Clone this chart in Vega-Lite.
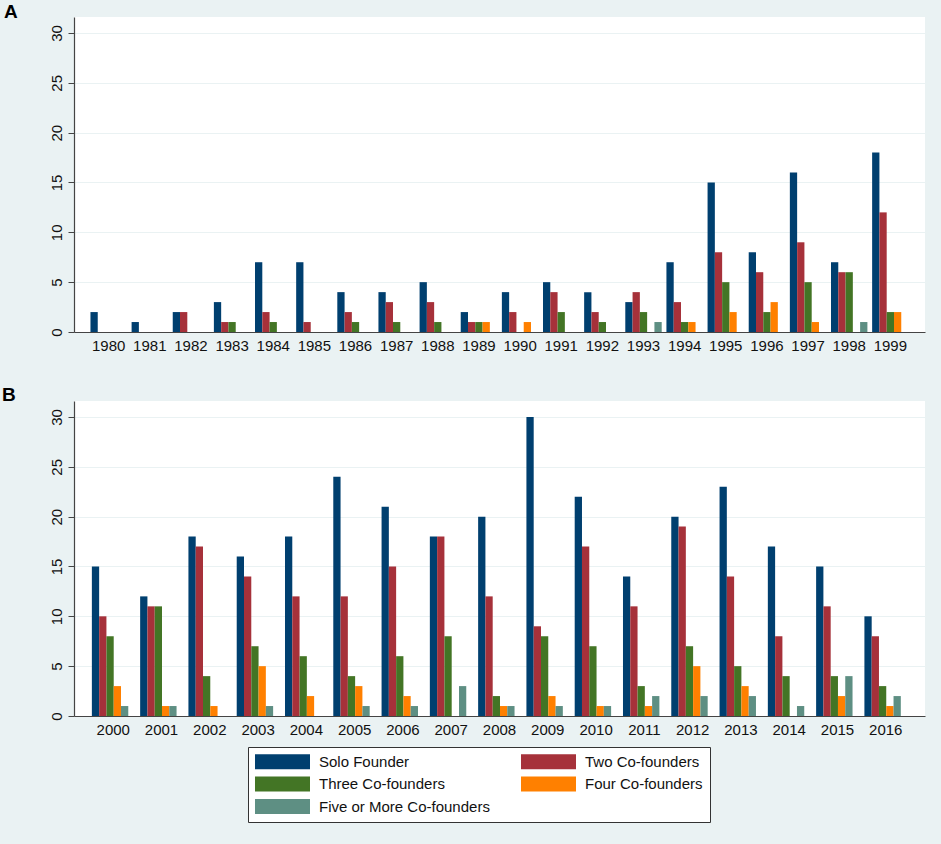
{
  "$schema": "https://vega.github.io/schema/vega-lite/v6.json",
  "autosize": {"type": "pad"},
  "padding": {"left": 2, "top": 3, "right": 18, "bottom": 24},
  "background": "#eaf2f3",
  "datasets": {
    "counts": [
      {"panel": "A", "year": "1980", "founders": "Solo Founder", "count": 2},
      {"panel": "A", "year": "1981", "founders": "Solo Founder", "count": 1},
      {"panel": "A", "year": "1982", "founders": "Solo Founder", "count": 2},
      {"panel": "A", "year": "1982", "founders": "Two Co-founders", "count": 2},
      {"panel": "A", "year": "1983", "founders": "Solo Founder", "count": 3},
      {"panel": "A", "year": "1983", "founders": "Two Co-founders", "count": 1},
      {"panel": "A", "year": "1983", "founders": "Three Co-founders", "count": 1},
      {"panel": "A", "year": "1984", "founders": "Solo Founder", "count": 7},
      {"panel": "A", "year": "1984", "founders": "Two Co-founders", "count": 2},
      {"panel": "A", "year": "1984", "founders": "Three Co-founders", "count": 1},
      {"panel": "A", "year": "1985", "founders": "Solo Founder", "count": 7},
      {"panel": "A", "year": "1985", "founders": "Two Co-founders", "count": 1},
      {"panel": "A", "year": "1986", "founders": "Solo Founder", "count": 4},
      {"panel": "A", "year": "1986", "founders": "Two Co-founders", "count": 2},
      {"panel": "A", "year": "1986", "founders": "Three Co-founders", "count": 1},
      {"panel": "A", "year": "1987", "founders": "Solo Founder", "count": 4},
      {"panel": "A", "year": "1987", "founders": "Two Co-founders", "count": 3},
      {"panel": "A", "year": "1987", "founders": "Three Co-founders", "count": 1},
      {"panel": "A", "year": "1988", "founders": "Solo Founder", "count": 5},
      {"panel": "A", "year": "1988", "founders": "Two Co-founders", "count": 3},
      {"panel": "A", "year": "1988", "founders": "Three Co-founders", "count": 1},
      {"panel": "A", "year": "1989", "founders": "Solo Founder", "count": 2},
      {"panel": "A", "year": "1989", "founders": "Two Co-founders", "count": 1},
      {"panel": "A", "year": "1989", "founders": "Three Co-founders", "count": 1},
      {"panel": "A", "year": "1989", "founders": "Four Co-founders", "count": 1},
      {"panel": "A", "year": "1990", "founders": "Solo Founder", "count": 4},
      {"panel": "A", "year": "1990", "founders": "Two Co-founders", "count": 2},
      {"panel": "A", "year": "1990", "founders": "Four Co-founders", "count": 1},
      {"panel": "A", "year": "1991", "founders": "Solo Founder", "count": 5},
      {"panel": "A", "year": "1991", "founders": "Two Co-founders", "count": 4},
      {"panel": "A", "year": "1991", "founders": "Three Co-founders", "count": 2},
      {"panel": "A", "year": "1992", "founders": "Solo Founder", "count": 4},
      {"panel": "A", "year": "1992", "founders": "Two Co-founders", "count": 2},
      {"panel": "A", "year": "1992", "founders": "Three Co-founders", "count": 1},
      {"panel": "A", "year": "1993", "founders": "Solo Founder", "count": 3},
      {"panel": "A", "year": "1993", "founders": "Two Co-founders", "count": 4},
      {"panel": "A", "year": "1993", "founders": "Three Co-founders", "count": 2},
      {"panel": "A", "year": "1993", "founders": "Five or More Co-founders", "count": 1},
      {"panel": "A", "year": "1994", "founders": "Solo Founder", "count": 7},
      {"panel": "A", "year": "1994", "founders": "Two Co-founders", "count": 3},
      {"panel": "A", "year": "1994", "founders": "Three Co-founders", "count": 1},
      {"panel": "A", "year": "1994", "founders": "Four Co-founders", "count": 1},
      {"panel": "A", "year": "1995", "founders": "Solo Founder", "count": 15},
      {"panel": "A", "year": "1995", "founders": "Two Co-founders", "count": 8},
      {"panel": "A", "year": "1995", "founders": "Three Co-founders", "count": 5},
      {"panel": "A", "year": "1995", "founders": "Four Co-founders", "count": 2},
      {"panel": "A", "year": "1996", "founders": "Solo Founder", "count": 8},
      {"panel": "A", "year": "1996", "founders": "Two Co-founders", "count": 6},
      {"panel": "A", "year": "1996", "founders": "Three Co-founders", "count": 2},
      {"panel": "A", "year": "1996", "founders": "Four Co-founders", "count": 3},
      {"panel": "A", "year": "1997", "founders": "Solo Founder", "count": 16},
      {"panel": "A", "year": "1997", "founders": "Two Co-founders", "count": 9},
      {"panel": "A", "year": "1997", "founders": "Three Co-founders", "count": 5},
      {"panel": "A", "year": "1997", "founders": "Four Co-founders", "count": 1},
      {"panel": "A", "year": "1998", "founders": "Solo Founder", "count": 7},
      {"panel": "A", "year": "1998", "founders": "Two Co-founders", "count": 6},
      {"panel": "A", "year": "1998", "founders": "Three Co-founders", "count": 6},
      {"panel": "A", "year": "1998", "founders": "Five or More Co-founders", "count": 1},
      {"panel": "A", "year": "1999", "founders": "Solo Founder", "count": 18},
      {"panel": "A", "year": "1999", "founders": "Two Co-founders", "count": 12},
      {"panel": "A", "year": "1999", "founders": "Three Co-founders", "count": 2},
      {"panel": "A", "year": "1999", "founders": "Four Co-founders", "count": 2},
      {"panel": "B", "year": "2000", "founders": "Solo Founder", "count": 15},
      {"panel": "B", "year": "2000", "founders": "Two Co-founders", "count": 10},
      {"panel": "B", "year": "2000", "founders": "Three Co-founders", "count": 8},
      {"panel": "B", "year": "2000", "founders": "Four Co-founders", "count": 3},
      {"panel": "B", "year": "2000", "founders": "Five or More Co-founders", "count": 1},
      {"panel": "B", "year": "2001", "founders": "Solo Founder", "count": 12},
      {"panel": "B", "year": "2001", "founders": "Two Co-founders", "count": 11},
      {"panel": "B", "year": "2001", "founders": "Three Co-founders", "count": 11},
      {"panel": "B", "year": "2001", "founders": "Four Co-founders", "count": 1},
      {"panel": "B", "year": "2001", "founders": "Five or More Co-founders", "count": 1},
      {"panel": "B", "year": "2002", "founders": "Solo Founder", "count": 18},
      {"panel": "B", "year": "2002", "founders": "Two Co-founders", "count": 17},
      {"panel": "B", "year": "2002", "founders": "Three Co-founders", "count": 4},
      {"panel": "B", "year": "2002", "founders": "Four Co-founders", "count": 1},
      {"panel": "B", "year": "2003", "founders": "Solo Founder", "count": 16},
      {"panel": "B", "year": "2003", "founders": "Two Co-founders", "count": 14},
      {"panel": "B", "year": "2003", "founders": "Three Co-founders", "count": 7},
      {"panel": "B", "year": "2003", "founders": "Four Co-founders", "count": 5},
      {"panel": "B", "year": "2003", "founders": "Five or More Co-founders", "count": 1},
      {"panel": "B", "year": "2004", "founders": "Solo Founder", "count": 18},
      {"panel": "B", "year": "2004", "founders": "Two Co-founders", "count": 12},
      {"panel": "B", "year": "2004", "founders": "Three Co-founders", "count": 6},
      {"panel": "B", "year": "2004", "founders": "Four Co-founders", "count": 2},
      {"panel": "B", "year": "2005", "founders": "Solo Founder", "count": 24},
      {"panel": "B", "year": "2005", "founders": "Two Co-founders", "count": 12},
      {"panel": "B", "year": "2005", "founders": "Three Co-founders", "count": 4},
      {"panel": "B", "year": "2005", "founders": "Four Co-founders", "count": 3},
      {"panel": "B", "year": "2005", "founders": "Five or More Co-founders", "count": 1},
      {"panel": "B", "year": "2006", "founders": "Solo Founder", "count": 21},
      {"panel": "B", "year": "2006", "founders": "Two Co-founders", "count": 15},
      {"panel": "B", "year": "2006", "founders": "Three Co-founders", "count": 6},
      {"panel": "B", "year": "2006", "founders": "Four Co-founders", "count": 2},
      {"panel": "B", "year": "2006", "founders": "Five or More Co-founders", "count": 1},
      {"panel": "B", "year": "2007", "founders": "Solo Founder", "count": 18},
      {"panel": "B", "year": "2007", "founders": "Two Co-founders", "count": 18},
      {"panel": "B", "year": "2007", "founders": "Three Co-founders", "count": 8},
      {"panel": "B", "year": "2007", "founders": "Five or More Co-founders", "count": 3},
      {"panel": "B", "year": "2008", "founders": "Solo Founder", "count": 20},
      {"panel": "B", "year": "2008", "founders": "Two Co-founders", "count": 12},
      {"panel": "B", "year": "2008", "founders": "Three Co-founders", "count": 2},
      {"panel": "B", "year": "2008", "founders": "Four Co-founders", "count": 1},
      {"panel": "B", "year": "2008", "founders": "Five or More Co-founders", "count": 1},
      {"panel": "B", "year": "2009", "founders": "Solo Founder", "count": 30},
      {"panel": "B", "year": "2009", "founders": "Two Co-founders", "count": 9},
      {"panel": "B", "year": "2009", "founders": "Three Co-founders", "count": 8},
      {"panel": "B", "year": "2009", "founders": "Four Co-founders", "count": 2},
      {"panel": "B", "year": "2009", "founders": "Five or More Co-founders", "count": 1},
      {"panel": "B", "year": "2010", "founders": "Solo Founder", "count": 22},
      {"panel": "B", "year": "2010", "founders": "Two Co-founders", "count": 17},
      {"panel": "B", "year": "2010", "founders": "Three Co-founders", "count": 7},
      {"panel": "B", "year": "2010", "founders": "Four Co-founders", "count": 1},
      {"panel": "B", "year": "2010", "founders": "Five or More Co-founders", "count": 1},
      {"panel": "B", "year": "2011", "founders": "Solo Founder", "count": 14},
      {"panel": "B", "year": "2011", "founders": "Two Co-founders", "count": 11},
      {"panel": "B", "year": "2011", "founders": "Three Co-founders", "count": 3},
      {"panel": "B", "year": "2011", "founders": "Four Co-founders", "count": 1},
      {"panel": "B", "year": "2011", "founders": "Five or More Co-founders", "count": 2},
      {"panel": "B", "year": "2012", "founders": "Solo Founder", "count": 20},
      {"panel": "B", "year": "2012", "founders": "Two Co-founders", "count": 19},
      {"panel": "B", "year": "2012", "founders": "Three Co-founders", "count": 7},
      {"panel": "B", "year": "2012", "founders": "Four Co-founders", "count": 5},
      {"panel": "B", "year": "2012", "founders": "Five or More Co-founders", "count": 2},
      {"panel": "B", "year": "2013", "founders": "Solo Founder", "count": 23},
      {"panel": "B", "year": "2013", "founders": "Two Co-founders", "count": 14},
      {"panel": "B", "year": "2013", "founders": "Three Co-founders", "count": 5},
      {"panel": "B", "year": "2013", "founders": "Four Co-founders", "count": 3},
      {"panel": "B", "year": "2013", "founders": "Five or More Co-founders", "count": 2},
      {"panel": "B", "year": "2014", "founders": "Solo Founder", "count": 17},
      {"panel": "B", "year": "2014", "founders": "Two Co-founders", "count": 8},
      {"panel": "B", "year": "2014", "founders": "Three Co-founders", "count": 4},
      {"panel": "B", "year": "2014", "founders": "Five or More Co-founders", "count": 1},
      {"panel": "B", "year": "2015", "founders": "Solo Founder", "count": 15},
      {"panel": "B", "year": "2015", "founders": "Two Co-founders", "count": 11},
      {"panel": "B", "year": "2015", "founders": "Three Co-founders", "count": 4},
      {"panel": "B", "year": "2015", "founders": "Four Co-founders", "count": 2},
      {"panel": "B", "year": "2015", "founders": "Five or More Co-founders", "count": 4},
      {"panel": "B", "year": "2016", "founders": "Solo Founder", "count": 10},
      {"panel": "B", "year": "2016", "founders": "Two Co-founders", "count": 8},
      {"panel": "B", "year": "2016", "founders": "Three Co-founders", "count": 3},
      {"panel": "B", "year": "2016", "founders": "Four Co-founders", "count": 1},
      {"panel": "B", "year": "2016", "founders": "Five or More Co-founders", "count": 2}
    ]
  },
  "data": {"name": "counts"},
  "bounds": "flush",
  "spacing": 69,
  "vconcat": [
    {
      "width": 851,
      "height": 315,
      "title": {"text": "A", "anchor": "start", "frame": "group", "dx": -70, "offset": -20, "baseline": "alphabetic", "fontSize": 19, "fontWeight": "bold", "color": "black"},
      "transform": [{"filter": "datum.panel == 'A'"}],
      "mark": "bar",
      "encoding": {
        "x": {"field": "year", "type": "ordinal", "title": null, "scale": {"paddingInner": 0.115, "paddingOuter": 0.4}},
        "xOffset": {"field": "founders", "type": "nominal", "scale": {"domain": ["Solo Founder", "Two Co-founders", "Three Co-founders", "Four Co-founders", "Five or More Co-founders"]}},
        "y": {"field": "count", "type": "quantitative", "title": null, "scale": {"domain": [0, 31.6], "nice": false}, "axis": {"values": [0, 5, 10, 15, 20, 25, 30]}},
        "color": {
          "field": "founders", "type": "nominal",
          "scale": {"domain": ["Solo Founder", "Two Co-founders", "Three Co-founders", "Four Co-founders", "Five or More Co-founders"], "range": ["#003f6f", "#a6313a", "#437525", "#ff8000", "#5e8f83"]},
          "legend": {"title": null, "orient": "none", "legendX": 174, "legendY": 730, "columns": 2, "direction": "horizontal", "symbolType": "M-3.667,-1H3.667V1H-3.667Z", "symbolSize": 225, "symbolOffset": 20, "labelOffset": 29}
        }
      }
    },
    {
      "width": 851,
      "height": 315,
      "title": {"text": "B", "anchor": "start", "frame": "group", "dx": -72, "offset": -19, "baseline": "alphabetic", "fontSize": 19, "fontWeight": "bold", "color": "black"},
      "transform": [{"filter": "datum.panel == 'B'"}],
      "mark": "bar",
      "encoding": {
        "x": {"field": "year", "type": "ordinal", "title": null, "scale": {"paddingInner": 0.115, "paddingOuter": 0.37}},
        "xOffset": {"field": "founders", "type": "nominal", "scale": {"domain": ["Solo Founder", "Two Co-founders", "Three Co-founders", "Four Co-founders", "Five or More Co-founders"]}},
        "y": {"field": "count", "type": "quantitative", "title": null, "scale": {"domain": [0, 31.6], "nice": false}, "axis": {"values": [0, 5, 10, 15, 20, 25, 30]}},
        "color": {"field": "founders", "type": "nominal"}
      }
    }
  ],
  "config": {
    "font": "Liberation Sans",
    "view": {"fill": "white", "stroke": null},
    "axis": {"labelFont": "Liberation Sans", "labelFontSize": 15, "labelColor": "#111111", "domainColor": "#444444", "tickColor": "#444444", "gridColor": "#eaf2f3", "domainWidth": 1.2},
    "axisX": {"ticks": false, "grid": false, "labelPadding": 6, "labelAngle": 0},
    "axisY": {"tickSize": 6, "labelAngle": -90, "labelPadding": 4, "grid": true},
    "legend": {"labelFont": "Liberation Sans", "labelFontSize": 15, "labelColor": "#111111", "labelLimit": 400, "symbolStrokeWidth": 0, "symbolOpacity": 1, "rowPadding": 6.5, "columnPadding": 30, "padding": 7, "strokeColor": "#333333", "fillColor": "white"}
  }
}
